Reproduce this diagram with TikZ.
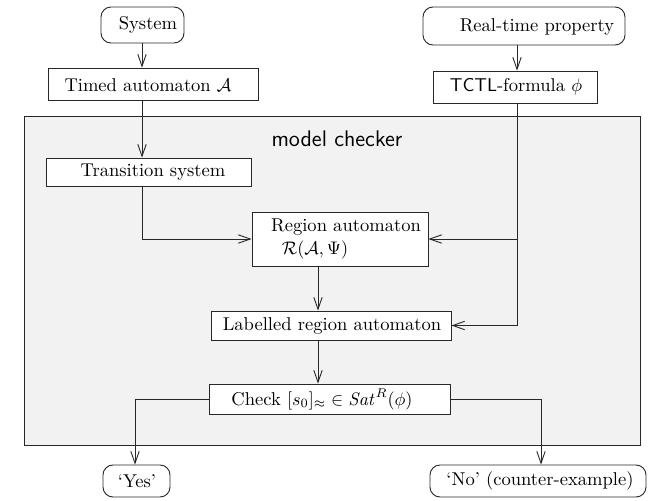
\documentclass[tikz,border=0pt]{standalone}
\usetikzlibrary{arrows.meta}
\definecolor{mcgray}{RGB}{242,242,242}
\definecolor{linec}{RGB}{40,40,40}
\begin{document}
\begin{tikzpicture}[x=0.55pt,y=-0.55pt,
  line width=0.5pt,
  every node/.style={font=\fontsize{10.2}{12}\selectfont},
  box/.style={draw=linec,fill=white,inner sep=0pt},
  rbox/.style={box,rounded corners=5.5pt},
  arr/.style={draw=linec,-{Straight Barb[length=6.5pt,width=4.6pt,line width=0.5pt]}},
  ln/.style={draw=linec}]
\useasboundingbox (0,0) rectangle (652,501);
% model checker region
\draw[draw=linec,fill=mcgray] (24,116) rectangle (640,445);
\node[font=\fontsize{12.4}{14}\selectfont\sffamily] (mct) at (337,139) {model checker};
% boxes
\node[rbox,minimum width=45.65pt,minimum height=19.8pt] (sys) at (142.5,25) {};
\node (sysT) at (148,25) {System};
\node[box,minimum width=115.5pt,minimum height=17.6pt] (ta) at (153,84) {};
\node (taT) at (148,85) {Timed automaton $\mathcal{A}$};
\node[rbox,minimum width=111.1pt,minimum height=20.9pt] (rtp) at (524,26) {};
\node (rtpT) at (537,27) {Real-time property};
\node[box,minimum width=90.2pt,minimum height=17.6pt] (tctl) at (515,87) {};
\node (tctlT) at (516,87) {\textsf{TCTL}-formula $\phi$};
\node[box,minimum width=112.75pt,minimum height=15.4pt] (ts) at (148.5,172) {};
\node (tsT) at (153,172) {Transition system};
\node[box,minimum width=96.8pt,minimum height=29.7pt] (ra) at (340,239) {};
\node (raT1) at (346,227) {Region automaton};
\node (raT2) at (315,250) {$\mathcal{R}(\mathcal{A},\Psi)$};
\node[box,minimum width=132pt,minimum height=16pt] (lra) at (331,325.5) {};
\node (lraT) at (332,326) {Labelled region automaton};
\node[box,minimum width=132.5pt,minimum height=16.5pt] (chk) at (329.5,399) {};
\node (chkT) at (322,399) {Check $[s_0]_{\approx}\in \mathit{Sat}^R(\phi)$};
\node[rbox,minimum width=36.85pt,minimum height=17.6pt] (yes) at (136.5,481) {};
\node (yesT) at (137,481) {`Yes'};
\node[rbox,minimum width=118.8pt,minimum height=17.6pt] (no) at (538,481) {};
\node (noT) at (540,481) {`No' (counter-example)};
% helper columns
\coordinate (cA) at (142,0);
\coordinate (cR) at (318,0);
\coordinate (cT) at (517,0);
\coordinate (cY) at (135,0);
\coordinate (cN) at (541,0);
% connectors
\draw[arr] (cA |- sys.south) -- (cA |- ta.north);
\draw[arr] (cA |- ta.south) -- (cA |- ts.north);
\draw[arr] (cA |- ts.south) |- (ra.west);
\draw[arr] (cT |- rtp.south) -- (cT |- tctl.north);
\draw[arr] (cT |- tctl.south) |- (lra.east);
\draw[arr] (cT |- ra.east) -- (ra.east);
\draw[arr] (cR |- ra.south) -- (cR |- lra.north);
\draw[arr] (cR |- lra.south) -- (cR |- chk.north);
\draw[arr] (chk.west) -| (cY |- yes.north);
\draw[arr] (chk.east) -| (cN |- no.north);
\end{tikzpicture}
\end{document}
